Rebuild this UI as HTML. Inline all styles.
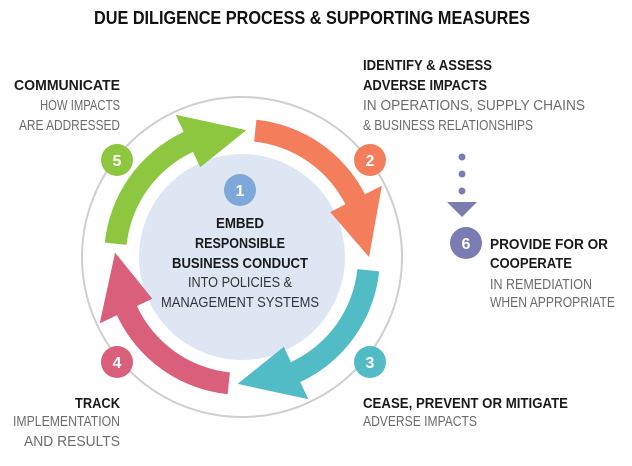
<!DOCTYPE html>
<html><head><meta charset="utf-8"><style>
html,body{margin:0;padding:0;background:#fff;width:632px;height:466px;overflow:hidden}
svg text{font-family:"Liberation Sans Narrow","Liberation Sans",sans-serif}
.b{font-weight:bold;fill:#1a1a1a;font-size:15px}
.l{fill:#6b6b6b;font-size:15px}
.n{fill:#fff;font-size:16px;font-weight:bold;text-anchor:middle}
</style></head><body>
<svg id="s" width="632" height="466" viewBox="0 0 632 466" xmlns="http://www.w3.org/2000/svg">
<text x="312" y="24" text-anchor="middle" style="font-weight:bold;font-size:18px;fill:#111" textLength="436" lengthAdjust="spacingAndGlyphs">DUE DILIGENCE PROCESS &amp; SUPPORTING MEASURES</text>
<circle cx="242" cy="257" r="160" fill="none" stroke="#cfcfcf" stroke-width="2"/>
<circle cx="242" cy="257" r="103" fill="#dfe6f3"/>
<g id="arrows"></g>
<circle cx="117" cy="160" r="16" fill="#8dc63f"/><text class="n" x="117" y="166">5</text>
<circle cx="370" cy="160" r="16" fill="#f47d5b"/><text class="n" x="370" y="166">2</text>
<circle cx="370" cy="362" r="16" fill="#52bcc6"/><text class="n" x="370" y="368">3</text>
<circle cx="117" cy="362" r="16" fill="#d95f7b"/><text class="n" x="117" y="368">4</text>
<circle cx="240" cy="190" r="16" fill="#7ea8da"/><text class="n" x="240" y="196">1</text>
<circle cx="462" cy="157" r="3.5" fill="#7b7cb1"/><circle cx="462" cy="174" r="3.5" fill="#7b7cb1"/><circle cx="462" cy="191" r="3.5" fill="#7b7cb1"/>
<polygon points="447,202 477,202 462,217" fill="#7b7cb1"/>
<circle cx="466" cy="243" r="16" fill="#7b7cb1"/><text class="n" x="466" y="249">6</text>

<text class="b" x="240" y="228" text-anchor="middle" textLength="48" lengthAdjust="spacingAndGlyphs">EMBED</text>
<text class="b" x="240" y="248" text-anchor="middle" textLength="90" lengthAdjust="spacingAndGlyphs">RESPONSIBLE</text>
<text class="b" x="240" y="268" text-anchor="middle" textLength="136" lengthAdjust="spacingAndGlyphs">BUSINESS CONDUCT</text>
<text class="l" x="240" y="287" text-anchor="middle" style="fill:#333" textLength="104" lengthAdjust="spacingAndGlyphs">INTO POLICIES &amp;</text>
<text class="l" x="240" y="307" text-anchor="middle" style="fill:#333" textLength="158" lengthAdjust="spacingAndGlyphs">MANAGEMENT SYSTEMS</text>

<text class="b" x="120" y="90" text-anchor="end" textLength="106" lengthAdjust="spacingAndGlyphs">COMMUNICATE</text>
<text class="l" x="120" y="110" text-anchor="end" textLength="80" lengthAdjust="spacingAndGlyphs">HOW IMPACTS</text>
<text class="l" x="120" y="130" text-anchor="end" textLength="101" lengthAdjust="spacingAndGlyphs">ARE ADDRESSED</text>

<text class="b" x="363" y="70" textLength="129" lengthAdjust="spacingAndGlyphs">IDENTIFY &amp; ASSESS</text>
<text class="b" x="363" y="90" textLength="124" lengthAdjust="spacingAndGlyphs">ADVERSE IMPACTS</text>
<text class="l" x="363" y="110" textLength="222" lengthAdjust="spacingAndGlyphs">IN OPERATIONS, SUPPLY CHAINS</text>
<text class="l" x="363" y="130" textLength="170" lengthAdjust="spacingAndGlyphs">&amp; BUSINESS RELATIONSHIPS</text>

<text class="b" x="490" y="249" textLength="118" lengthAdjust="spacingAndGlyphs">PROVIDE FOR OR</text>
<text class="b" x="490" y="268" textLength="82" lengthAdjust="spacingAndGlyphs">COOPERATE</text>
<text class="l" x="490" y="289" textLength="102" lengthAdjust="spacingAndGlyphs">IN REMEDIATION</text>
<text class="l" x="490" y="307" textLength="125" lengthAdjust="spacingAndGlyphs">WHEN APPROPRIATE</text>

<text class="b" x="120" y="408" text-anchor="end" textLength="45" lengthAdjust="spacingAndGlyphs">TRACK</text>
<text class="l" x="120" y="426" text-anchor="end" textLength="107" lengthAdjust="spacingAndGlyphs">IMPLEMENTATION</text>
<text class="l" x="120" y="446" text-anchor="end" textLength="96" lengthAdjust="spacingAndGlyphs">AND RESULTS</text>

<text class="b" x="363" y="408" textLength="205" lengthAdjust="spacingAndGlyphs">CEASE, PREVENT OR MITIGATE</text>
<text class="l" x="363" y="426" textLength="114" lengthAdjust="spacingAndGlyphs">ADVERSE IMPACTS</text>
</svg>
<script>
(function(){
var cx=242,cy=257,ri=116,ro=138,hi=99,ho=157,rm=127,hl=27;
function p(r,a){a=a*Math.PI/180;return (cx+r*Math.cos(a)).toFixed(1)+","+(cy+r*Math.sin(a)).toFixed(1);}
function arrow(a0,a1,col){
 var ah=a1-hl;
 var d="M"+p(ro,a0)+" A"+ro+","+ro+" 0 0 1 "+p(ro,ah)+" L"+p(ho,ah)+" L"+p(rm,a1)+" L"+p(hi,ah)+" L"+p(ri,ah)+" A"+ri+","+ri+" 0 0 0 "+p(ri,a0)+" Z";
 return '<path d="'+d+'" fill="'+col+'"/>';
}
document.getElementById("arrows").innerHTML=
 arrow(186,272,"#8dc63f")+arrow(276,360,"#f47d5b")+arrow(6,92,"#52bcc6")+arrow(96,182,"#d95f7b");
})();
</script>
</body></html>
